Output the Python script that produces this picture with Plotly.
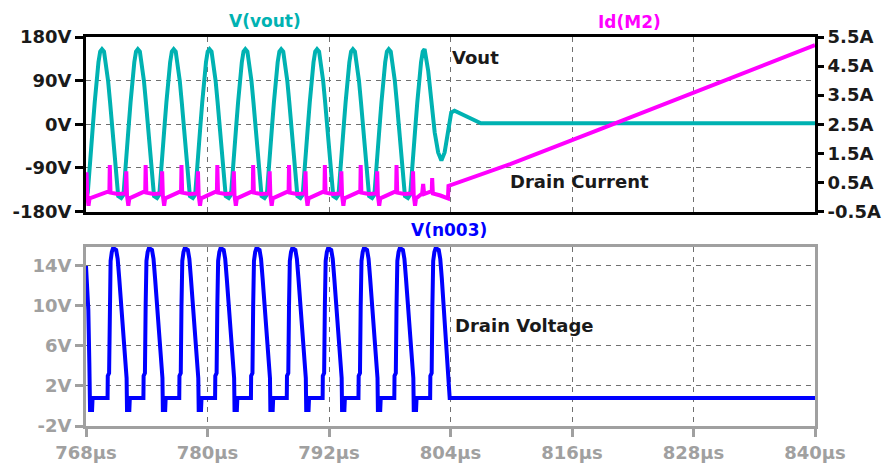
import plotly.graph_objects as go

# ---- axis ticks -------------------------------------------------------
x_ticks = [768, 780, 792, 804, 816, 828, 840]
x_tick_text = ["768µs", "780µs", "792µs", "804µs", "816µs", "828µs", "840µs"]

vout_ticks = [-180, -90, 0, 90, 180]
vout_tick_text = ["-180V", "-90V", "0V", "90V", "180V"]

id_ticks = [-0.5, 0.5, 1.5, 2.5, 3.5, 4.5, 5.5]
id_tick_text = ["-0.5A", "0.5A", "1.5A", "2.5A", "3.5A", "4.5A", "5.5A"]

vd_ticks = [-2, 2, 6, 10, 14]
vd_tick_text = ["-2V", "2V", "6V", "10V", "14V"]

# ---- V(vout): resonant output voltage (V) ----------------------------
# time of each positive peak while the converter is switching (µs)
vout_peak_times = [769.58, 773.12, 776.66, 780.20, 783.74,
                   787.28, 790.82, 794.36, 797.90, 801.44]
# one ringing cycle around its peak: offset (µs) and voltage (V)
vout_cycle_dt = [-1.40, -1.25, -1.07, -0.89, -0.72, -0.55, -0.35, -0.18, 0.00,
                 0.20, 0.40, 0.60, 0.80, 0.99, 1.16, 1.32, 1.45, 1.60, 1.90, 2.10]
vout_cycle_v = [-140, -90, -45, 0, 45, 90, 128, 150, 155,
                150, 125, 90, 45, 0, -45, -90, -130, -148, -152, -146]
vout_head_t = [768.00, 768.10]
vout_head_v = [-150, -148]
# decay after switching stops
vout_tail_t = [801.80, 802.12, 802.44, 802.78, 803.10, 803.42, 803.75,
               804.07, 804.40, 805.05, 805.70, 806.35, 807.00, 840.00]
vout_tail_v = [110, 45, -17, -58, -75, -58, -10,
               24, 28, 21, 14, 7, 2, 2]

# ---- V(n003): drain voltage (V) ---------------------------------------
# instant the drain leaves its low level in each switching period (µs)
drain_rise_times = [770.13, 773.67, 777.21, 780.75, 784.29,
                    787.83, 791.37, 794.91, 798.45, 801.99]
vd_cycle_dt = [0.00, 0.02, 0.15, 0.22, 0.30, 0.42, 0.55, 0.85, 1.00,
               1.15, 1.35, 1.55, 1.75, 1.88, 1.92, 2.15, 2.20]
vd_cycle_v = [0.8, 3.0, 3.3, 10.0, 14.5, 15.4, 15.8, 15.6, 14.7,
              12.8, 10.0, 7.0, 4.0, 2.8, -0.4, -0.4, 0.8]
vd_head_t = [768.00, 768.13, 768.23, 768.33, 768.40, 768.60, 768.65]
vd_head_v = [14.0, 12.0, 9.6, 4.3, -0.4, -0.4, 0.8]
vd_tail_t = [803.92, 840.00]
vd_tail_v = [0.8, 0.8]

# ---- Id(M2): drain current (A) ----------------------------------------
id_cycle_dt = [0.18, 0.22, 0.29, 1.00, 1.78, 1.85, 1.92, 2.05, 2.15]
id_cycle_v = [0.20, 1.10, 0.15, 0.10, 0.12, 0.88, 0.05, -0.30, -0.05]
id_head_t = [768.00, 768.05, 768.12, 768.25, 768.35]
id_head_v = [0.50, 0.85, 0.05, -0.30, -0.05]
# last switching period, then the linear ramp once the switch stays on
id_tail_t = [801.20, 801.30, 801.40, 802.15, 802.19, 802.26, 803.00,
             803.75, 803.80, 809.90, 818.80, 828.00, 840.00]
id_tail_v = [0.12, 0.45, 0.10, 0.20, 0.65, 0.12, 0.05,
             -0.05, 0.38, 1.13, 2.33, 3.58, 5.22]


def repeat_cycle(starts, dts, vals):
    ts, vs = [], []
    for t0 in starts:
        ts += [round(t0 + d, 4) for d in dts]
        vs += list(vals)
    return ts, vs


# V(vout): full cycles, then the last rise to its peak
t1, v1 = repeat_cycle(vout_peak_times[:-1], vout_cycle_dt, vout_cycle_v)
n_rise = vout_cycle_dt.index(0.00) + 1
t1_last, v1_last = repeat_cycle(vout_peak_times[-1:], vout_cycle_dt[:n_rise],
                                vout_cycle_v[:n_rise])
vout_t = vout_head_t + t1 + t1_last + vout_tail_t
vout_v = vout_head_v + v1 + v1_last + vout_tail_v

# V(n003): full pulses, then the last pulse without the undershoot
t3, v3 = repeat_cycle(drain_rise_times[:-1], vd_cycle_dt, vd_cycle_v)
n_fall = vd_cycle_dt.index(1.88) + 1
t3_last, v3_last = repeat_cycle(drain_rise_times[-1:], vd_cycle_dt[:n_fall],
                                vd_cycle_v[:n_fall])
vd_t = vd_head_t + t3 + t3_last + vd_tail_t
vd_v = vd_head_v + v3 + v3_last + vd_tail_v

# Id(M2)
t2, v2 = repeat_cycle(drain_rise_times[:-1], id_cycle_dt, id_cycle_v)
id_t = id_head_t + t2 + id_tail_t
id_v = id_head_v + v2 + id_tail_v

# ---- styling -----------------------------------------------------------
TEAL = "#00b2b2"
MAGENTA = "#ff00ff"
BLUE = "#0000ff"
DARK = "#1a1a1a"
GRAY = "#a0a0a0"
GRID = "#707070"
FONT = "DejaVu Sans"

fig = go.Figure()
fig.add_trace(go.Scatter(x=vout_t, y=vout_v, mode="lines", xaxis="x", yaxis="y",
                         line=dict(color=TEAL, width=4), name="V(vout)"))
fig.add_trace(go.Scatter(x=id_t, y=id_v, mode="lines", xaxis="x", yaxis="y2",
                         line=dict(color=MAGENTA, width=4), name="Id(M2)"))
fig.add_trace(go.Scatter(x=vd_t, y=vd_v, mode="lines", xaxis="x2", yaxis="y3",
                         line=dict(color=BLUE, width=4), name="V(n003)"))

tick_font_dark = dict(family=FONT, size=18, weight="bold", color=DARK)
tick_font_gray = dict(family=FONT, size=18, weight="bold", color=GRAY)
grid_common = dict(showgrid=True, gridcolor=GRID, gridwidth=1,
                   griddash="5px,5px", zeroline=False, automargin=False)

fig.update_layout(
    width=889, height=465,
    margin=dict(l=86, r=74, t=37, b=39, autoexpand=False),
    paper_bgcolor="white", plot_bgcolor="white",
    showlegend=False,
    xaxis=dict(domain=[0, 1], anchor="y", range=[768, 840],
               tickvals=x_ticks, showticklabels=False, ticks="",
               showline=True, linecolor="black", linewidth=3, mirror=True,
               **grid_common),
    yaxis=dict(domain=[0.5514, 1], anchor="x", range=[-180, 180],
               tickvals=vout_ticks, ticktext=vout_tick_text,
               ticks="outside", ticklen=8, tickwidth=3, tickcolor="black",
               tickfont=tick_font_dark,
               showline=True, linecolor="black", linewidth=3, mirror=True,
               **grid_common),
    yaxis2=dict(overlaying="y", side="right", anchor="x", range=[-0.5, 5.5],
                tickvals=id_ticks, ticktext=id_tick_text,
                ticks="outside", ticklen=8, tickwidth=3, tickcolor="black",
                tickfont=tick_font_dark, showgrid=False, zeroline=False,
                showline=False, automargin=False),
    xaxis2=dict(domain=[0, 1], anchor="y3", range=[768, 840],
                tickvals=x_ticks, ticktext=x_tick_text,
                ticks="outside", ticklen=8, tickwidth=3, tickcolor=GRAY,
                tickfont=tick_font_gray,
                showline=True, linecolor=GRAY, linewidth=3, mirror=True,
                **grid_common),
    yaxis3=dict(domain=[0, 0.4602], anchor="x2", range=[-2, 15.9],
                tickvals=vd_ticks, ticktext=vd_tick_text,
                ticks="outside", ticklen=8, tickwidth=3, tickcolor=GRAY,
                tickfont=tick_font_gray,
                showline=True, linecolor=GRAY, linewidth=3, mirror=True,
                **grid_common),
)

title_font = dict(family=FONT, size=17, weight="bold")
label_font = dict(family=FONT, size=18, weight="bold", color=DARK)
for text, color, x, y in [("V(vout)", TEAL, 0.2455, 1.0411),
                          ("Id(M2)", MAGENTA, 0.746, 1.0386),
                          ("V(n003)", BLUE, 0.498, 0.5039)]:
    fig.add_annotation(text=text, xref="paper", yref="paper", x=x, y=y,
                       xanchor="center", yanchor="middle", showarrow=False,
                       font=dict(color=color, **title_font))

fig.add_annotation(text="Vout", xref="x", yref="y", x=803.95, y=137,
                   xanchor="left", yanchor="middle", showarrow=False, font=label_font)
fig.add_annotation(text="Drain Current", xref="x", yref="y", x=809.7, y=-118,
                   xanchor="left", yanchor="middle", showarrow=False, font=label_font)
fig.add_annotation(text="Drain Voltage", xref="x2", yref="y3", x=804.25, y=8.0,
                   xanchor="left", yanchor="middle", showarrow=False, font=label_font)

fig.write_html("out.html")
